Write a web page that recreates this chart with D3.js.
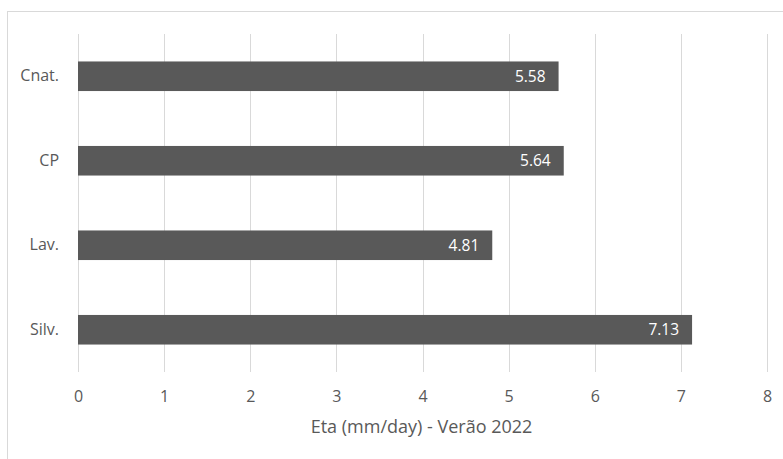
<!DOCTYPE html>
<html><head><meta charset="utf-8">
<script src="https://cdn.jsdelivr.net/npm/d3@7"></script>
<style>body{margin:0;background:#fff;} text{font-family:"Open Sans",sans-serif;}</style>
</head><body>
<svg id="c" width="783" height="459"></svg>
<script>
const categories = ["Cnat.", "CP", "Lav.", "Silv."];
const values = [5.58, 5.64, 4.81, 7.13];
const xTicks = [0, 1, 2, 3, 4, 5, 6, 7, 8];
const axisTitle = "Eta (mm/day) - Verão 2022";

const svg = d3.select("#c");
svg.append("rect").attr("x", 7.5).attr("y", 11.5).attr("width", 800).attr("height", 500)
  .attr("fill", "#fff").attr("stroke", "#d9d9d9").attr("stroke-width", 1);

const pL = 78, pR = 767, pT = 34, pB = 372;
const x = d3.scaleLinear().domain([0, 8]).range([pL, pR]);
const y = d3.scaleBand().domain(categories).range([pT, pB]).paddingInner(0.65).paddingOuter(0.325);

// gridlines
svg.append("g").selectAll("line").data(xTicks).join("line")
  .attr("x1", d => Math.round(x(d)) + 0.5).attr("x2", d => Math.round(x(d)) + 0.5)
  .attr("y1", pT).attr("y2", pB)
  .attr("stroke", "#d9d9d9").attr("stroke-width", 1);

// x axis labels
const xAxis = d3.axisBottom(x).tickValues(xTicks).tickSize(0).tickPadding(0).tickFormat(d3.format("d"));
const gx = svg.append("g").attr("transform", `translate(0,${pB + 24})`).call(xAxis);
gx.select(".domain").remove();
gx.selectAll("text").attr("fill", "#595959").style("font-size", "16px").attr("dy", "0.35em").attr("y", 0);

// y axis labels
const yAxis = d3.axisLeft(y).tickSize(0).tickPadding(0);
const gy = svg.append("g").attr("transform", `translate(${pL - 19},0)`).call(yAxis);
gy.select(".domain").remove();
gy.selectAll("text").attr("fill", "#595959").style("font-size", "16px");

// bars
svg.append("g").selectAll("rect").data(categories).join("rect")
  .attr("x", x(0)).attr("y", d => y(d))
  .attr("width", (d, i) => x(values[i]) - x(0)).attr("height", y.bandwidth())
  .attr("fill", "#595959");

// labels
svg.append("g").selectAll("text").data(categories).join("text")
  .attr("x", (d, i) => x(values[i]) - 13).attr("y", d => y(d) + y.bandwidth() / 2)
  .attr("dy", "0.35em").attr("text-anchor", "end")
  .attr("fill", "#fff").style("font-size", "15.5px")
  .text((d, i) => values[i].toFixed(2));

// axis title
svg.append("text").attr("x", (pL + pR) / 2 - 1).attr("y", 427).attr("dy", "0.35em")
  .attr("text-anchor", "middle").attr("fill", "#595959").style("font-size", "18px")
  .text(axisTitle);
</script>
</body></html>
